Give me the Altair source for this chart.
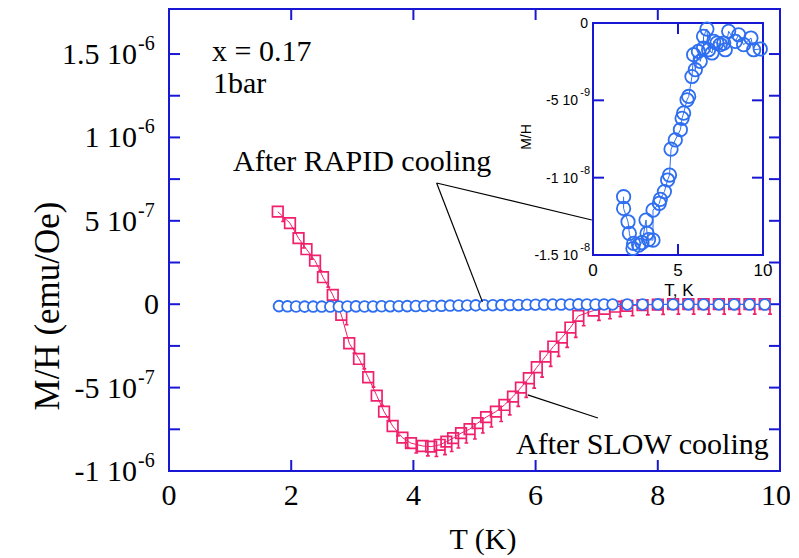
import altair as alt
import pandas as pd

# ---------------- data ----------------
# After SLOW cooling (red squares), M/H in units of 1e-7 emu/Oe
slow_T = [1.78, 1.98, 2.12, 2.25, 2.39, 2.52, 2.68, 2.82, 2.95, 3.11, 3.26, 3.40,
          3.52, 3.66, 3.82, 3.96, 4.15, 4.29, 4.43, 4.54, 4.65, 4.78, 4.92, 5.05,
          5.19, 5.35, 5.49, 5.63, 5.76, 5.89, 6.02, 6.16, 6.29, 6.43, 6.57, 6.70,
          6.95, 7.13, 7.30, 7.50, 7.75, 8.00, 8.25, 8.50, 8.75, 9.00, 9.25, 9.50, 9.75]
slow_MH = [5.55, 4.86, 3.96, 3.30, 2.61, 1.62, 0.56, -0.64, -2.34, -3.28, -4.38, -5.48,
           -6.44, -7.30, -8.00, -8.33, -8.50, -8.54, -8.43, -8.24, -8.03, -7.73, -7.49, -7.13,
           -6.77, -6.44, -6.04, -5.54, -5.00, -4.44, -3.78, -3.14, -2.54, -2.00, -1.40, -0.70,
           -0.38, -0.28, -0.15, -0.10, -0.05, -0.02, 0.0, 0.0, 0.0, 0.0, 0.0, 0.0, 0.0]

# After RAPID cooling, main panel (blue circles), M/H in units of 1e-9 emu/Oe
rapid_main_T = [1.80, 1.94, 2.08, 2.22, 2.36, 2.50, 2.64, 2.78, 2.92, 3.06, 3.20, 3.34,
                3.48, 3.62, 3.76, 3.90, 4.04, 4.18, 4.32, 4.46, 4.60, 4.74, 4.88, 5.02,
                5.16, 5.30, 5.44, 5.58, 5.72, 5.86, 6.00, 6.14, 6.28, 6.42, 6.56, 6.70,
                6.84, 6.98, 7.12, 7.26, 7.50, 7.75, 8.00, 8.25, 8.50, 8.75, 9.00, 9.25,
                9.50, 9.75]
rapid_main_MH = [-11.5, -12.8, -13.6, -14.4, -14.3, -14.3, -14.2, -14.0, -13.2, -13.0, -13.6, -13.5,
                 -12.5, -12.0, -11.6, -11.5, -11.2, -10.9, -10.3, -9.8, -8.3, -7.8, -7.3, -7.0,
                 -6.6, -5.9, -5.5, -5.0, -4.5, -3.6, -2.9, -2.3, -2.2, -1.9, -1.3, -0.8,
                 -1.6, -1.9, -1.3, -1.3, -1.4, -1.4, -0.8, -1.1, -0.9, -1.3, -1.3, -1.1,
                 -1.6, -1.7]

# After RAPID cooling, inset (blue circles), M/H in units of 1e-9 emu/Oe
rapid_T = [1.80, 1.80, 2.06, 2.14, 2.35, 2.39, 2.69, 2.88, 3.12, 3.18, 3.27, 3.53,
           3.53, 3.90, 3.96, 4.20, 4.39, 4.50, 4.59, 4.84, 5.14, 5.24, 5.33, 5.53,
           5.63, 5.82, 5.92, 6.02, 6.20, 6.31, 6.50, 6.50, 6.70, 6.80, 7.00, 7.10,
           7.29, 7.49, 7.69, 7.78, 7.98, 8.37, 8.57, 8.86, 9.29, 9.45, 9.84]
rapid_MH = [-11.23, -11.99, -12.85, -13.60, -14.58, -14.25, -14.36, -14.20, -12.74, -13.60, -14.00, -14.04,
            -12.10, -11.66, -11.40, -10.90, -10.15, -9.83, -8.16, -7.56, -6.90, -6.16, -5.83, -4.97,
            -4.75, -3.46, -2.05, -3.02, -1.84, -2.48, -1.62, -0.86, -0.39, -1.73, -1.94, -1.19,
            -1.30, -1.40, -1.30, -1.73, -0.54, -1.19, -0.76, -1.40, -0.97, -1.73, -1.68]

# axes / labels
main_x_ticks = [0, 2, 4, 6, 8, 10]
main_y_major = [-1e-6, -5e-7, 0.0, 5e-7, 1e-6, 1.5e-6]
main_y_base = ["-1 10", "-5 10", "0", "5 10", "1 10", "1.5 10"]
main_y_exp = ["-6", "-7", "", "-7", "-6", "-6"]
main_y_minor = [-7.5e-7, -2.5e-7, 2.5e-7, 7.5e-7, 1.25e-6]
inset_x_ticks = [0, 5, 10]
inset_y_ticks = [-1.5e-8, -1e-8, -5e-9, 0.0]
inset_y_base = ["-1.5 10", "-1 10", "-5 10", "0"]
inset_y_exp = ["-8", "-8", "-9", ""]

# annotation leader lines (data coordinates of the main plot)
lead_x1 = [4.38, 4.38, 5.87]
lead_y1 = [7.27e-7, 7.27e-7, -5.44e-7]
lead_x2 = [5.13, 6.92, 7.02]
lead_y2 = [0.14e-7, 5.05e-7, -6.82e-7]

MAIN_X = [0, 10]
MAIN_Y = [-1e-6, 1.77e-6]
INSET_X = [0, 10]
INSET_Y = [-1.5e-8, 0.0]

# ---------------- styling ----------------
W, H = 611, 462
AX = "#1818d4"
RED = "#f0206c"
BLUE = "#2e6ef0"
SERIF = "Liberation Serif"
SANS = "Liberation Sans"
FS = 30
IN_XR = [424, 594]   # inset pixel range (x) inside the plot area
IN_YR = [246, 14]    # inset pixel range (y)
SQ_PATH = "M-0.7,-0.7H0.7V0.7H-0.7Z M0.7,0.7V1.3 M0.45,1.3H0.95"

slow_df = pd.DataFrame({"T": slow_T, "MH": [v * 1e-7 for v in slow_MH],
                        "i": list(range(len(slow_T)))})
rapid_main_df = pd.DataFrame({"T": rapid_main_T, "MH": [v * 1e-9 for v in rapid_main_MH],
                              "i": list(range(len(rapid_main_T)))})
rapid_df = pd.DataFrame({"T": rapid_T, "MH": [v * 1e-9 for v in rapid_MH],
                         "i": list(range(len(rapid_T)))})
ylab_df = pd.DataFrame({"v": main_y_major, "base": main_y_base, "exp": main_y_exp})
xlab_df = pd.DataFrame({"v": main_x_ticks, "lab": [str(v) for v in main_x_ticks]})
yminmaj_df = pd.DataFrame({"v": main_y_major + main_y_minor})
xt_df = pd.DataFrame({"v": main_x_ticks})
inx_df = pd.DataFrame({"v": inset_x_ticks, "lab": [str(v) for v in inset_x_ticks]})
iny_df = pd.DataFrame({"v": inset_y_ticks, "base": inset_y_base, "exp": inset_y_exp})
lead_df = pd.DataFrame({"x1": lead_x1, "y1": lead_y1, "x2": lead_x2, "y2": lead_y2})
frame_df = pd.DataFrame({"x0": [INSET_X[0]], "x1": [INSET_X[1]],
                         "y0": [INSET_Y[0]], "y1": [INSET_Y[1]]})
one = pd.DataFrame({"a": [0]})


def sx():
    return alt.Scale(domain=MAIN_X, nice=False, zero=False)


def sy():
    return alt.Scale(domain=MAIN_Y, nice=False, zero=False)


def ix():
    return alt.Scale(domain=INSET_X, range=IN_XR, nice=False, zero=False)


def iy():
    return alt.Scale(domain=INSET_Y, range=IN_YR, nice=False, zero=False)


def X(f, s):
    return alt.X(f, type="quantitative", scale=s, axis=None)


def Y(f, s):
    return alt.Y(f, type="quantitative", scale=s, axis=None)


layers = []

# --- main plot ticks (inward, on all four sides)
layers.append(alt.Chart(xt_df).mark_rule(color=AX, strokeWidth=2).encode(
    x=X("v", sx()), y=alt.value(0), y2=alt.value(11)))
layers.append(alt.Chart(xt_df).mark_rule(color=AX, strokeWidth=2).encode(
    x=X("v", sx()), y=alt.value(H), y2=alt.value(H - 11)))
layers.append(alt.Chart(yminmaj_df).mark_rule(color=AX, strokeWidth=2).encode(
    y=Y("v", sy()), x=alt.value(0), x2=alt.value(11)))
layers.append(alt.Chart(yminmaj_df).mark_rule(color=AX, strokeWidth=2).encode(
    y=Y("v", sy()), x=alt.value(W), x2=alt.value(W - 11)))

# --- main tick labels
xl_in = xlab_df[xlab_df["v"] < MAIN_X[1]]
xl_end = xlab_df[xlab_df["v"] == MAIN_X[1]]
layers.append(alt.Chart(xl_in).mark_text(font=SERIF, fontSize=FS, align="center",
                                         baseline="alphabetic", color="black").encode(
    x=X("v", sx()), y=alt.value(496), text="lab:N"))
layers.append(alt.Chart(xl_end).mark_text(font=SERIF, fontSize=FS, align="center", dx=-4,
                                          baseline="alphabetic", color="black").encode(
    x=X("v", sx()), y=alt.value(496), text="lab:N"))
nz = ylab_df[ylab_df["exp"] != ""]
zr = ylab_df[ylab_df["exp"] == ""]
layers.append(alt.Chart(nz).mark_text(font=SERIF, fontSize=FS, align="right",
                                      baseline="alphabetic", dy=10, color="black").encode(
    y=Y("v", sy()), x=alt.value(-32), text="base:N"))
layers.append(alt.Chart(nz).mark_text(font=SERIF, fontSize=20, align="left",
                                      baseline="alphabetic", dy=-4, color="black").encode(
    y=Y("v", sy()), x=alt.value(-31), text="exp:N"))
layers.append(alt.Chart(zr).mark_text(font=SERIF, fontSize=FS, align="right",
                                      baseline="alphabetic", dy=10, color="black").encode(
    y=Y("v", sy()), x=alt.value(-10), text="base:N"))

# --- axis titles
layers.append(alt.Chart(one).mark_text(text="T (K)", font=SERIF, fontSize=FS, align="center",
                                       baseline="alphabetic", color="black").encode(
    x=alt.value(314), y=alt.value(540)))
layers.append(alt.Chart(one).mark_text(text="M/H (emu/Oe)", font=SERIF, fontSize=35, align="center",
                                       baseline="middle", angle=270, color="black").encode(
    x=alt.value(-121), y=alt.value(297)))

# --- data: slow cooling
layers.append(alt.Chart(slow_df).mark_line(color=RED, strokeWidth=1).encode(
    x=X("T", sx()), y=Y("MH", sy()), order="i:Q"))
layers.append(alt.Chart(slow_df).mark_point(shape=SQ_PATH, size=230, filled=False,
                                            color=RED, strokeWidth=1.7, opacity=1).encode(
    x=X("T", sx()), y=Y("MH", sy())))
# --- data: rapid cooling (main)
layers.append(alt.Chart(rapid_main_df).mark_line(color=BLUE, strokeWidth=1).encode(
    x=X("T", sx()), y=Y("MH", sy()), order="i:Q"))
layers.append(alt.Chart(rapid_main_df).mark_point(shape="circle", size=115, filled=True,
                                                  fill="white", stroke=BLUE, strokeWidth=1.8,
                                                  opacity=1, fillOpacity=1).encode(
    x=X("T", sx()), y=Y("MH", sy())))

# --- annotations
layers.append(alt.Chart(lead_df).mark_rule(color="black", strokeWidth=1.2).encode(
    x=X("x1", sx()), y=Y("y1", sy()), x2="x2", y2="y2"))
for txt, px, py in [("x = 0.17", 43, 51.7), ("1bar", 44, 83.7),
                    ("After RAPID cooling", 64, 161.7), ("After SLOW cooling", 347, 445.3)]:
    layers.append(alt.Chart(one).mark_text(text=txt, font=SERIF, fontSize=FS, align="left",
                                           baseline="alphabetic", color="black").encode(
        x=alt.value(px), y=alt.value(py)))

# --- inset
layers.append(alt.Chart(frame_df).mark_rect(fillOpacity=0, stroke=AX, strokeWidth=2).encode(
    x=X("x0", ix()), x2="x1", y=Y("y0", iy()), y2="y1"))
in_mid = inx_df[(inx_df["v"] > INSET_X[0]) & (inx_df["v"] < INSET_X[1])]
layers.append(alt.Chart(in_mid).mark_rule(color=AX, strokeWidth=2).encode(
    x=X("v", ix()), y=alt.value(IN_YR[1]), y2=alt.value(IN_YR[1] + 11)))
layers.append(alt.Chart(in_mid).mark_rule(color=AX, strokeWidth=2).encode(
    x=X("v", ix()), y=alt.value(IN_YR[0]), y2=alt.value(IN_YR[0] - 11)))
iny_mid = iny_df[(iny_df["v"] > INSET_Y[0]) & (iny_df["v"] < INSET_Y[1])]
layers.append(alt.Chart(iny_mid).mark_rule(color=AX, strokeWidth=2).encode(
    y=Y("v", iy()), x=alt.value(IN_XR[0]), x2=alt.value(IN_XR[0] + 11)))
layers.append(alt.Chart(iny_mid).mark_rule(color=AX, strokeWidth=2).encode(
    y=Y("v", iy()), x=alt.value(IN_XR[1]), x2=alt.value(IN_XR[1] - 11)))
layers.append(alt.Chart(inx_df).mark_text(font=SANS, fontSize=17, align="center",
                                          baseline="alphabetic", color="black").encode(
    x=X("v", ix()), y=alt.value(267), text="lab:N"))
iny_nz = iny_df[iny_df["exp"] != ""]
iny_z = iny_df[iny_df["exp"] == ""]
layers.append(alt.Chart(iny_nz).mark_text(font=SANS, fontSize=14, align="right",
                                          baseline="alphabetic", dy=5, color="black").encode(
    y=Y("v", iy()), x=alt.value(409), text="base:N"))
layers.append(alt.Chart(iny_nz).mark_text(font=SANS, fontSize=11, align="right",
                                          baseline="alphabetic", dy=-4, color="black").encode(
    y=Y("v", iy()), x=alt.value(421), text="exp:N"))
layers.append(alt.Chart(iny_z).mark_text(font=SANS, fontSize=14, align="right",
                                         baseline="alphabetic", dy=5, color="black").encode(
    y=Y("v", iy()), x=alt.value(419), text="base:N"))
layers.append(alt.Chart(one).mark_text(text="T, K", font=SANS, fontSize=17, align="center",
                                       baseline="alphabetic", color="black").encode(
    x=alt.value(510), y=alt.value(287)))
layers.append(alt.Chart(one).mark_text(text="M/H", font=SANS, fontSize=14, align="center",
                                       baseline="middle", angle=270, color="black").encode(
    x=alt.value(358), y=alt.value(128)))
layers.append(alt.Chart(rapid_df).mark_line(color=BLUE, strokeWidth=1).encode(
    x=X("T", ix()), y=Y("MH", iy()), order="i:Q"))
layers.append(alt.Chart(rapid_df).mark_point(shape="circle", size=180, filled=False,
                                             color=BLUE, strokeWidth=1.8, opacity=1).encode(
    x=X("T", ix()), y=Y("MH", iy())))

chart = alt.layer(*layers).resolve_scale(x="independent", y="independent").properties(
    width=W, height=H,
    autosize=alt.AutoSizeParams(type="none"),
    padding={"left": 161, "top": 1, "right": 10, "bottom": 86},
).configure_view(stroke=AX, strokeWidth=2)

chart.save("out.html", embed_options={"renderer": "svg", "actions": False})
